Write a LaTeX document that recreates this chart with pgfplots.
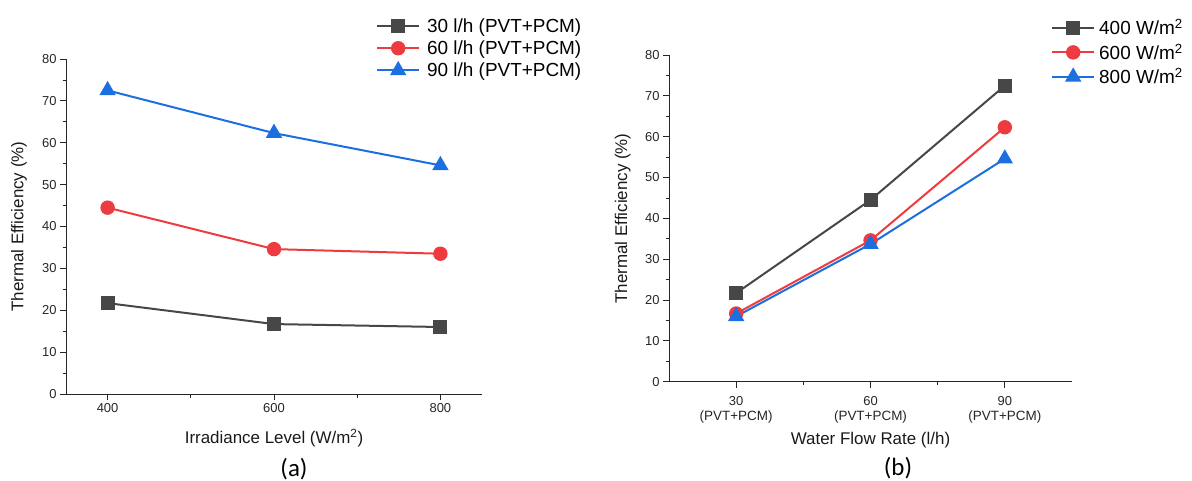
\documentclass[border=0pt]{standalone}
\usepackage{fontspec}
\setmainfont{Liberation Sans}
\newfontfamily\capfont{Carlito}
\usepackage{pgfplots}
\pgfplotsset{compat=1.18}

\definecolor{sgray}{HTML}{474747}
\definecolor{sred}{HTML}{EE3B3F}
\definecolor{sblue}{HTML}{1C6FDE}

\pgfplotsset{
  effax/.style={
    scale only axis,
    axis lines=left,
    axis line style={-, line width=1bp, black!85},
    tick align=outside,
    tick style={line width=0.8bp, black!85},
    major tick length=6bp,
    minor tick length=3.5bp,
    ymin=0, ymax=80,
    ytick={0,10,...,80},
    minor y tick num=1,
    minor x tick num=1,
    /pgf/number format/assume math mode=true,
    tick label style={font=\fontsize{13}{15}\selectfont, text=black!85},
    label style={font=\fontsize{17}{20}\selectfont, text=black!90},
    ylabel={Thermal Efficiency (\%)},
    legend cell align=left,
    legend image code/.code={\draw[mark repeat=2,mark phase=2] plot coordinates {(0bp,0bp)(21bp,0bp)(42bp,0bp)};},
  },
  s1/.style={sgray, line width=2bp, mark=square*, mark size=6bp, mark options={solid}},
  s2/.style={sred, line width=2bp, mark=*, mark size=6.2bp},
  s3/.style={sblue, line width=2bp, mark=triangle*, mark size=7.5bp},
}

\begin{document}
\begin{tikzpicture}
\useasboundingbox (0bp,0bp) rectangle (1192bp,-481bp);

% (a) efficiency vs irradiance
\begin{axis}[effax,
  at={(66bp,-394bp)}, anchor=south west,
  width=416bp, height=335bp,
  xmin=350, xmax=850,
  xtick={400,600,800},
  xlabel={Irradiance Level (W/m\textsuperscript{2})},
  xlabel style={at={(axis description cs:0.5,-0.131)}, anchor=center},
  ylabel style={at={(axis description cs:-0.113,0.5)}, anchor=center},
  legend style={at={(0.738,1.1336)}, anchor=north west, draw=none, fill=none,
    font=\fontsize{19}{22}\selectfont, row sep=3bp,
    /tikz/every odd column/.append style={column sep=5bp}},
]
\addplot[s1] coordinates {(400,21.7) (600,16.7) (800,16.0)};
\addlegendentry{30 l/h (PVT+PCM)}
\addplot[s2] coordinates {(400,44.5) (600,34.6) (800,33.5)};
\addlegendentry{60 l/h (PVT+PCM)}
\addplot[s3] coordinates {(400,72.5) (600,62.3) (800,54.6)};
\addlegendentry{90 l/h (PVT+PCM)}
\end{axis}

% (b) efficiency vs flow rate
\begin{axis}[effax,
  at={(669bp,-381.7bp)}, anchor=south west,
  width=403bp, height=326.7bp,
  xmin=15, xmax=105,
  xtick={30,60,90},
  xticklabels={{30\\{\fontsize{13.5}{16}\selectfont(PVT+PCM)}},
               {60\\{\fontsize{13.5}{16}\selectfont(PVT+PCM)}},
               {90\\{\fontsize{13.5}{16}\selectfont(PVT+PCM)}}},
  xticklabel style={align=center, yshift=-5bp},
  xlabel={Water Flow Rate (l/h)},
  xlabel style={at={(axis description cs:0.5,-0.18)}, anchor=center},
  ylabel style={at={(axis description cs:-0.115,0.5)}, anchor=center},
  legend style={at={(0.9405,1.1217)}, anchor=north west, draw=none, fill=none,
    font=\fontsize{19}{22}\selectfont, row sep=3.5bp,
    /tikz/every odd column/.append style={column sep=2bp}},
]
\addplot[s1] coordinates {(30,21.7) (60,44.5) (90,72.5)};
\addlegendentry{400 W/m\textsuperscript{2}}
\addplot[s2] coordinates {(30,16.7) (60,34.6) (90,62.3)};
\addlegendentry{600 W/m\textsuperscript{2}}
\addplot[s3] coordinates {(30,16.0) (60,33.7) (90,54.6)};
\addlegendentry{800 W/m\textsuperscript{2}}
\end{axis}

\node[font=\capfont\fontsize{25}{29}\selectfont] at (294bp,-469bp) {(a)};
\node[font=\capfont\fontsize{25}{29}\selectfont] at (898bp,-468bp) {(b)};
\end{tikzpicture}
\end{document}
